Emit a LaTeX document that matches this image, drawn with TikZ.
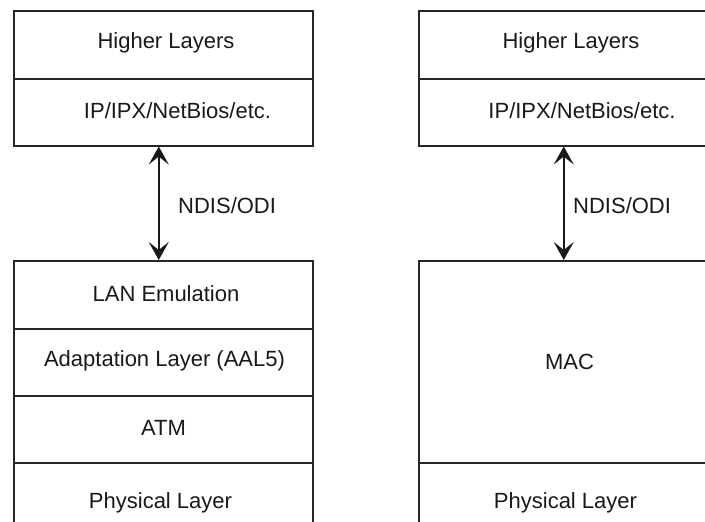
\documentclass[tikz,border=0pt]{standalone}
\usepackage{fontspec}
\setmainfont{Liberation Sans}
\usetikzlibrary{arrows.meta}
\begin{document}
\begin{tikzpicture}[x=1pt,y=-1pt,
  layer/.style={draw=black!85, line width=1.5pt, rectangle, minimum width=299pt, inner sep=0pt, anchor=north west},
  lbl/.style={font=\fontsize{22}{26}\selectfont, inner sep=0pt, text=black!90},
  link/.style={line width=1.5pt, draw=black!90, {Stealth[length=18pt,width=20pt,inset=8pt]}-{Stealth[length=18pt,width=20pt,inset=8pt]}}]
\useasboundingbox (0,0) rectangle (705,522);
\fill[white] (0,0) rectangle (705,522);
\begin{scope}
\clip (0,0) rectangle (705,522);
% left stack
\node[layer, minimum height=68pt] (hl1) at (13,10) {};
\node[layer, minimum height=67pt] (ip1) at (13,78) {};
\node[layer, minimum height=68pt] (lane) at (13,260) {};
\node[layer, minimum height=67pt] (aal) at (13,328) {};
\node[layer, minimum height=67pt] (atm) at (13,395) {};
\node[layer, minimum height=90pt] (phy1) at (13,462) {};
% right stack
\node[layer, minimum height=68pt] (hl2) at (418,10) {};
\node[layer, minimum height=67pt] (ip2) at (418,78) {};
\node[layer, minimum height=202pt] (mac) at (418,260) {};
\node[layer, minimum height=90pt] (phy2) at (418,462) {};
\end{scope}
% texts
\node[lbl] (t1) at (166,43) {Higher Layers};
\node[lbl] (t2) at (177.5,111) {IP/IPX/NetBios/etc.};
\node[lbl] (t3) at (166,294) {LAN Emulation};
\node[lbl] (t4) at (164.5,361) {Adaptation Layer (AAL5)};
\node[lbl] (t5) at (163.5,428) {ATM};
\node[lbl] (t6) at (160.5,503) {Physical Layer};
\node[lbl] (t7) at (571,43) {Higher Layers};
\node[lbl] (t8) at (582,111) {IP/IPX/NetBios/etc.};
\node[lbl] (t9) at (569.5,362) {MAC};
\node[lbl] (t10) at (565.5,503) {Physical Layer};
% connectors
\draw[link] ([xshift=-4.5pt]ip1.south) -- ([xshift=-4.5pt]lane.north);
\draw[link] ([xshift=-4.5pt]ip2.south) -- ([xshift=-4.5pt]mac.north);
\node[lbl, anchor=west] (n1) at (178,206) {NDIS/ODI};
\node[lbl, anchor=west] (n2) at (573,206) {NDIS/ODI};
\end{tikzpicture}
\end{document}
